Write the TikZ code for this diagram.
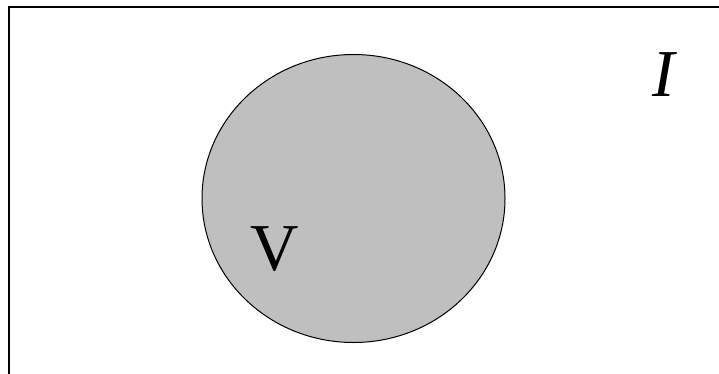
\documentclass[tikz,border=0pt]{standalone}
\usepackage{fontspec}
\setmainfont{Liberation Serif}
\usetikzlibrary{shapes.geometric}
\begin{document}
\begin{tikzpicture}[x=1pt,y=-1pt,
  frame/.style={draw=black,line width=2pt},
  setv/.style={draw=black,line width=1pt,fill=black!25},
  lbl/.style={inner sep=0pt,font=\fontsize{67}{70}\selectfont}]
\useasboundingbox (0,0) rectangle (719,374);
\draw[frame] (9,7) rectangle (740,400);
\node[setv,ellipse,minimum width=303,minimum height=288,inner sep=0pt] (v) at (353.5,198.5) {};
\node[lbl,anchor=base] (vl) at (275,270) {V};
\node[lbl,anchor=base] (il) at (664,97) {\itshape I};
\end{tikzpicture}
\end{document}
